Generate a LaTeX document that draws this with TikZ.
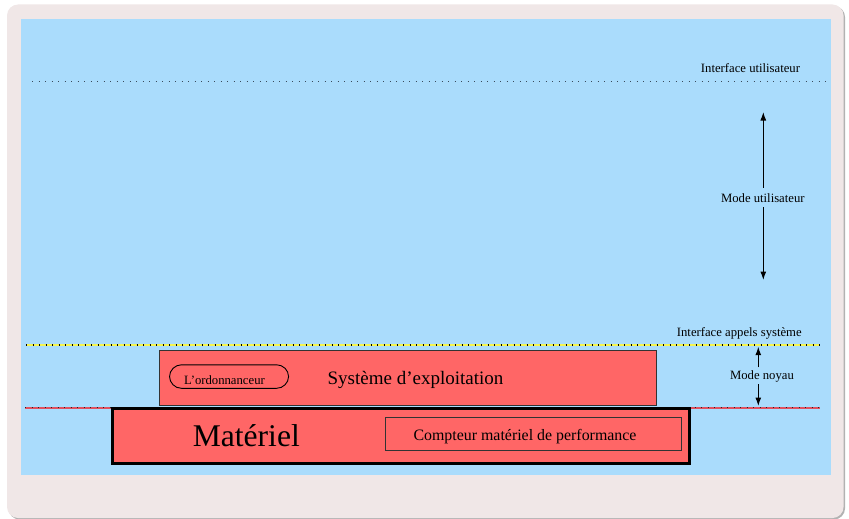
\documentclass[tikz,border=0pt]{standalone}
\usepackage{fontspec}
\setmainfont{Liberation Serif}
\usetikzlibrary{arrows.meta}

\definecolor{framebg}{HTML}{F0E7E7}
\definecolor{skyblue}{HTML}{AADCFC}
\definecolor{boxred}{HTML}{FF6666}
\definecolor{dotgray}{HTML}{3A4A5A}
\definecolor{lineyellow}{HTML}{F5F550}
\definecolor{linered}{HTML}{E0505E}

\tikzset{
  label/.style={inner sep=0pt, anchor=base, font=\fontsize{12.7}{14}\selectfont},
  dotline/.style={line width=1.6pt, dash pattern=on 1.4pt off 5.1pt},
  modearrow/.style={line width=1.1pt, -{Latex[length=8.5pt,width=6pt]}},
  layerbox/.style={draw=black!80, line width=0.9pt, fill=boxred, inner sep=0pt,
                   outer sep=0pt, anchor=north west},
}

\begin{document}
\begin{tikzpicture}[x=1pt,y=-1pt]
\useasboundingbox (0,0) rectangle (849,519);

% outer panel with a soft shadow
\fill[black!30, rounded corners=11pt] (8.5,6) rectangle (845,519.5);
\fill[framebg, rounded corners=11pt] (7,4.5) rectangle (843.5,518);
% sky background
\fill[skyblue] (21,19) rectangle (831,474.5);

% interface lines
\coordinate (ui-l) at (32,81.7);
\coordinate (ui-r) at (826,81.7);
\draw[dotline, dotgray] (ui-l) -- (ui-r);

\coordinate (sys-l) at (26,345);
\coordinate (sys-r) at (820,345);
\draw[line width=1.4pt, lineyellow] (sys-l) -- (sys-r);
\draw[dotline, line width=1.3pt, black] (sys-l) -- (sys-r);

\coordinate (hw-l) at (25,407.7);
\coordinate (hw-r) at (820,407.7);
\draw[line width=1.8pt, linered] (hw-l) -- (hw-r);
\draw[dotline, line width=1.2pt, black!85] (hw-l) -- (hw-r);

% interface captions
\node[label] (uilabel) at (750.5,72.3) {Interface utilisateur};
\node[label] (syslabel) at (739.3,336) {Interface appels système};

% user mode span
\node[label, inner sep=5pt] (usermode) at (762.8,202) {Mode utilisateur};
\coordinate (um-top) at (763.3,112);
\coordinate (um-bot) at (763.3,280);
\draw[modearrow] (usermode.north -| um-top) -- (um-top);
\draw[modearrow] (usermode.south -| um-bot) -- (um-bot);

% kernel mode span
\node[label, inner sep=2.5pt] (kernelmode) at (762,379) {Mode noyau};
\coordinate (km-top) at (758.3,346.7);
\coordinate (km-bot) at (758.3,406);
\draw[modearrow] (kernelmode.north -| km-top) -- (km-top);
\draw[modearrow] (kernelmode.south -| km-bot) -- (km-bot);

% operating system layer
\node[layerbox, minimum width=497.1pt, minimum height=55pt] (os) at (159.8,350.5) {};
\node[inner sep=0pt, anchor=base, font=\fontsize{19}{22}\selectfont] (ostext) at (415.5,384)
  {Système d’exploitation};
\node[layerbox, fill=none, draw=black, rounded corners=12pt,
      minimum width=119.1pt, minimum height=23.5pt] (sched) at (169.5,364.8) {};
\node[label] (schedtext) at (224.5,384) {L’ordonnanceur};

% hardware layer
\node[layerbox, draw=black, line width=3pt,
      minimum width=577pt, minimum height=55.6pt] (hw) at (112.5,408.2) {};
\node[inner sep=0pt, anchor=base, font=\fontsize{31.6}{36}\selectfont] (hwtext) at (246.3,446)
  {Matériel};
\node[layerbox, fill=none, minimum width=296.7pt, minimum height=32.5pt]
  (counter) at (385.2,417.8) {};
\node[inner sep=0pt, anchor=base, font=\fontsize{15.9}{18}\selectfont] (countertext) at (525,440.7)
  {Compteur matériel de performance};

\end{tikzpicture}
\end{document}
